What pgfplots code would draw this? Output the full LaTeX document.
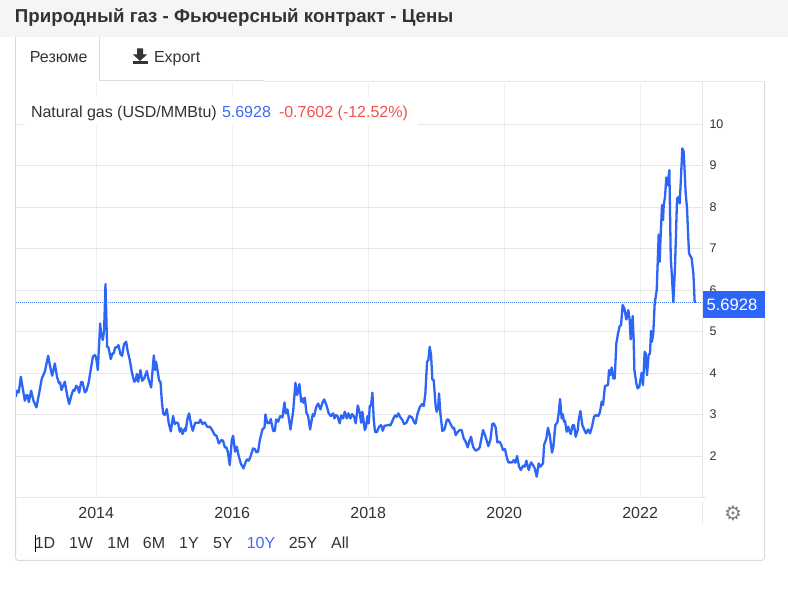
\documentclass[border=0pt]{standalone}
\usepackage{pgfplots}
\pgfplotsset{compat=1.18}
\usepackage{fontspec}
\setmainfont{Liberation Sans}
\newfontfamily\symfont{DejaVu Sans}
\definecolor{linec}{HTML}{2D65F6}
\definecolor{gridh}{HTML}{E6E6E6}
\definecolor{gridv}{HTML}{EEF2F7}
\definecolor{edge}{HTML}{DADADA}
\definecolor{txt}{HTML}{333333}
\definecolor{redc}{HTML}{EF5350}
\definecolor{bluet}{HTML}{3D6BF5}
\begin{document}
\begin{tikzpicture}[x=1pt,y=1pt,inner sep=0pt,outer sep=0pt]
\useasboundingbox (0,0) rectangle (788,597);
\fill[white] (0,0) rectangle (788,597);
\fill[black!4] (0,560) rectangle (788,597);
\begin{axis}[
  at={(16pt,99.4pt)},anchor=south west,scale only axis,width=686pt,height=415pt,
  xmin=2012.82,xmax=2022.91,ymin=1,ymax=11,
  xtick={2014,2016,2018,2020,2022},
  ytick={2,3,4,5,6,7,8,9,10},
  xticklabel style={/pgf/number format/1000 sep={},font=\fontsize{16}{18}\selectfont,text=txt,yshift=-9.5pt},
  yticklabel style={font=\fontsize{12.5}{14}\selectfont,text=txt,anchor=west,xshift=7.5pt},
  /pgf/number format/assume math mode=true,
  yticklabel pos=right,
  major tick length=0pt,
  grid=major,
  x grid style={gridv,line width=1pt},
  y grid style={gridh,line width=1pt},
  axis line style={draw=none},
  clip=true,
]
\addplot[linec,line width=2.3pt,line join=round] table {
2012.817 3.43
2012.837 3.575
2012.861 3.535
2012.891 3.913
2012.925 3.575
2012.950 3.334
2012.974 3.47
2012.989 3.47
2013.008 3.302
2013.043 3.575
2013.077 3.334
2013.121 3.173
2013.160 3.511
2013.200 3.872
2013.244 4.033
2013.293 4.418
2013.322 4.153
2013.352 3.936
2013.391 4.234
2013.425 3.896
2013.455 3.752
2013.469 3.776
2013.489 3.591
2013.538 3.792
2013.572 3.47
2013.602 3.254
2013.636 3.47
2013.660 3.591
2013.680 3.575
2013.705 3.695
2013.724 3.671
2013.749 3.527
2013.778 3.784
2013.798 3.784
2013.832 3.535
2013.856 3.575
2013.886 3.752
2013.915 4.033
2013.950 4.394
2013.979 4.434
2013.999 4.378
2014.023 4.073
2014.058 5.197
2014.072 4.956
2014.097 4.796
2014.116 5.037
2014.136 6.145
2014.160 4.635
2014.180 4.619
2014.214 4.338
2014.239 4.475
2014.258 4.475
2014.278 4.619
2014.303 4.619
2014.327 4.675
2014.356 4.458
2014.381 4.418
2014.410 4.699
2014.440 4.756
2014.464 4.515
2014.494 4.314
2014.523 4.033
2014.558 3.792
2014.582 3.832
2014.597 3.977
2014.616 3.792
2014.651 4.073
2014.675 3.816
2014.705 3.872
2014.744 4.049
2014.773 3.832
2014.808 3.655
2014.847 4.426
2014.866 4.073
2014.881 4.274
2014.901 4.073
2014.925 3.816
2014.945 3.792
2014.964 3.350
2014.984 3.029
2015.008 2.989
2015.038 3.133
2015.067 2.788
2015.097 2.595
2015.131 2.965
2015.155 2.772
2015.180 2.812
2015.205 2.788
2015.229 2.587
2015.249 2.668
2015.269 2.531
2015.303 2.668
2015.317 2.611
2015.342 2.909
2015.366 3.029
2015.396 2.748
2015.420 2.611
2015.455 2.804
2015.513 2.804
2015.533 2.877
2015.562 2.772
2015.597 2.812
2015.631 2.708
2015.670 2.708
2015.700 2.644
2015.744 2.507
2015.769 2.491
2015.803 2.306
2015.842 2.387
2015.866 2.371
2015.891 2.210
2015.915 2.210
2015.935 2.106
2015.964 1.784
2015.994 2.387
2016.013 2.491
2016.043 2.106
2016.067 2.226
2016.092 2.025
2016.126 1.825
2016.165 1.704
2016.200 1.865
2016.219 1.921
2016.244 1.889
2016.268 1.985
2016.307 2.186
2016.332 2.170
2016.356 2.090
2016.381 2.106
2016.406 2.386
2016.445 2.643
2016.475 2.691
2016.489 3.004
2016.514 2.804
2016.543 2.788
2016.568 2.892
2016.602 2.603
2016.627 2.603
2016.646 2.884
2016.676 2.828
2016.705 2.964
2016.739 2.932
2016.769 3.293
2016.788 3.029
2016.813 3.125
2016.857 2.643
2016.896 3.069
2016.930 3.767
2016.955 3.470
2016.989 3.735
2017.014 3.310
2017.033 3.390
2017.048 3.285
2017.068 3.406
2017.092 3.045
2017.117 2.964
2017.146 2.643
2017.185 3.012
2017.205 2.964
2017.234 3.173
2017.264 3.269
2017.298 3.125
2017.327 3.285
2017.352 3.366
2017.386 3.229
2017.420 3.029
2017.450 2.964
2017.484 3.029
2017.504 2.908
2017.523 2.988
2017.548 2.964
2017.582 2.788
2017.602 2.980
2017.631 2.908
2017.656 3.069
2017.685 2.908
2017.709 3.029
2017.739 2.908
2017.763 3.012
2017.793 2.948
2017.817 2.788
2017.847 3.221
2017.876 3.045
2017.896 2.804
2017.915 3.069
2017.950 2.627
2017.969 2.707
2017.989 2.964
2018.008 2.788
2018.023 3.205
2018.043 3.229
2018.062 3.526
2018.082 2.868
2018.101 2.587
2018.126 2.571
2018.160 2.707
2018.190 2.747
2018.214 2.611
2018.239 2.731
2018.278 2.739
2018.307 2.755
2018.327 2.739
2018.366 2.884
2018.395 2.980
2018.420 2.948
2018.444 3.029
2018.474 2.932
2018.503 2.868
2018.528 2.772
2018.562 2.804
2018.606 2.964
2018.645 2.932
2018.685 2.788
2018.699 2.788
2018.724 3.012
2018.758 3.173
2018.792 3.253
2018.817 3.205
2018.841 3.510
2018.866 4.273
2018.885 4.313
2018.905 4.634
2018.925 4.434
2018.944 3.848
2018.964 3.832
2018.993 3.189
2019.008 3.069
2019.028 3.149
2019.042 3.510
2019.062 3.029
2019.091 2.603
2019.121 2.643
2019.160 2.884
2019.179 2.884
2019.219 2.747
2019.248 2.667
2019.263 2.683
2019.287 2.507
2019.322 2.587
2019.346 2.627
2019.375 2.627
2019.405 2.426
2019.434 2.346
2019.464 2.209
2019.493 2.386
2019.513 2.466
2019.542 2.226
2019.581 2.129
2019.621 2.169
2019.640 2.209
2019.689 2.627
2019.718 2.507
2019.767 2.242
2019.797 2.386
2019.826 2.772
2019.846 2.788
2019.875 2.691
2019.900 2.330
2019.934 2.346
2019.959 2.266
2019.983 2.145
2020.012 2.169
2020.042 1.944
2020.062 1.848
2020.082 1.849
2020.121 1.849
2020.141 1.905
2020.165 1.840
2020.190 2.001
2020.219 1.744
2020.244 1.664
2020.278 1.768
2020.303 1.744
2020.327 1.889
2020.361 1.664
2020.396 1.849
2020.425 1.784
2020.450 1.704
2020.479 1.503
2020.508 1.824
2020.533 1.744
2020.572 1.824
2020.587 2.266
2020.621 2.427
2020.645 2.684
2020.670 2.507
2020.704 2.081
2020.724 2.226
2020.753 2.748
2020.783 2.812
2020.802 3.029
2020.822 3.374
2020.846 2.908
2020.861 3.013
2020.881 2.828
2020.895 2.852
2020.920 2.587
2020.944 2.708
2020.964 2.587
2020.979 2.531
2021.008 2.748
2021.028 2.748
2021.052 2.467
2021.082 2.627
2021.096 2.868
2021.121 3.085
2021.150 2.748
2021.185 2.611
2021.204 2.547
2021.234 2.643
2021.263 2.547
2021.292 2.708
2021.322 2.949
2021.351 2.989
2021.385 2.965
2021.410 3.069
2021.434 3.310
2021.454 3.230
2021.483 3.687
2021.528 3.711
2021.542 4.073
2021.562 3.952
2021.581 4.137
2021.606 3.872
2021.626 3.872
2021.650 4.715
2021.675 4.956
2021.699 5.133
2021.719 5.157
2021.743 5.639
2021.768 5.558
2021.797 5.293
2021.826 5.518
2021.846 5.277
2021.861 4.812
2021.890 5.374
2021.905 4.796
2021.915 4.089
2021.944 3.752
2021.964 3.631
2021.988 3.671
2022.022 4.009
2022.042 3.711
2022.067 4.514
2022.081 4.474
2022.101 3.952
2022.125 4.434
2022.145 4.474
2022.160 5.020
2022.174 4.755
2022.194 4.972
2022.214 5.679
2022.244 6.001
2022.273 7.342
2022.288 6.683
2022.298 7.165
2022.322 8.049
2022.337 7.687
2022.347 8.049
2022.366 8.249
2022.386 8.715
2022.406 8.530
2022.430 8.892
2022.450 6.804
2022.489 5.720
2022.513 6.563
2022.543 8.209
2022.572 8.249
2022.582 8.089
2022.621 9.414
2022.641 9.333
2022.670 8.330
2022.690 7.968
2022.705 7.366
2022.719 6.884
2022.758 6.764
2022.783 6.402
2022.803 5.6928
};
\addplot[linec!85,line width=1pt,dash pattern=on 1pt off 1pt] coordinates {(2012.82,5.6928) (2022.91,5.6928)};
\end{axis}
% frame
\draw[edge,line width=1pt] (15.5,99.4) -- (15.5,560);
\draw[gridh,line width=1pt] (15.5,99.4) -- (706,99.4);
\draw[gridh,line width=1pt] (702,94.5) -- (702,72.5);
\draw[gridh,line width=1pt] (702,99.4) -- (702,515.5);
\draw[edge,line width=1pt] (764.5,515.5) -- (764.5,39.5) arc (0:-90:3) -- (18.5,36.5) arc (-90:-180:3) -- (15.5,99.4);
\draw[gridh,line width=1pt] (264,515.5) -- (764.5,515.5);
% tabs
\fill[white] (16,516.5) rectangle (99,559.5);
\draw[edge,line width=1pt] (99,559.5) -- (99,516.5) -- (264,516.5);
% legend text with white backing
\fill[white] (25,471.5) rectangle (418,499.5);
\node[anchor=base west,text=txt,font=\fontsize{16}{18}\selectfont] at (31,479.5) {Natural gas (USD/MMBtu)};
\node[anchor=base west,text=bluet,font=\fontsize{16}{18}\selectfont] at (222,479.5) {5.6928};
\node[anchor=base west,text=redc,font=\fontsize{16}{18}\selectfont] at (279,479.5) {-0.7602 (-12.52\%)};
% price label
\fill[linec] (703,279) rectangle (765,306);
\node[text=white,font=\fontsize{16.6}{18}\selectfont] at (732,292) {5.6928};
% header
\node[anchor=base west,text=txt,font=\fontsize{18.7}{20}\selectfont\bfseries] at (15,574) {Природный газ - Фьючерсный контракт - Цены};
\node[anchor=base west,text=txt,font=\fontsize{16}{18}\selectfont] at (30,534) {Резюме};
\node[anchor=base west,text=txt,font=\fontsize{16}{18}\selectfont] at (154,534) {Export};
% download icon
\fill[black!80] (137,548.5) -- (143,548.5) -- (143,542.5) -- (147,542.5) -- (140,536) -- (133,542.5) -- (137,542.5) -- cycle;
\fill[black!80] (133,532.5) rectangle (148,535.5);
% gear
\node[text=black!50,font=\symfont\fontsize{20}{22}\selectfont] at (733,84) {⚙};
% range selector
\foreach \lab/\xx in {1D/45,1W/81,1M/118.6,6M/154,1Y/189,5Y/223,25Y/303,All/340}{
  \node[text=txt,font=\fontsize{16}{18}\selectfont] at (\xx,54) {\lab};
}
\node[text=bluet,font=\fontsize{16}{18}\selectfont] at (261,54) {10Y};
\draw[black,line width=0.7pt] (35.5,45) -- (35.5,62);
\end{tikzpicture}
\end{document}
